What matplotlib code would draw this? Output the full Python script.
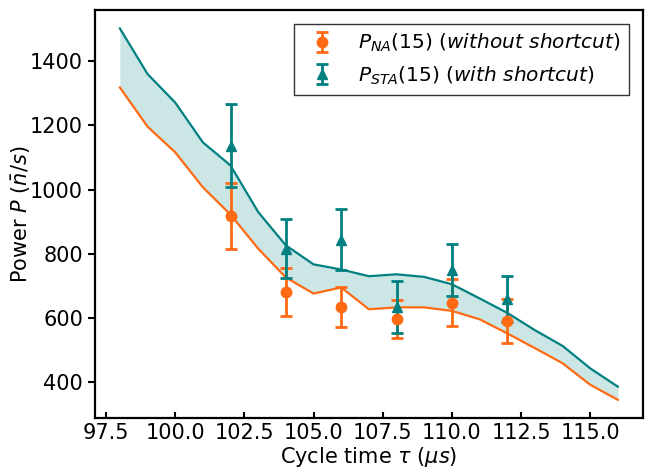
import numpy as np
import matplotlib
matplotlib.use("Agg")
import matplotlib.pyplot as plt

# Theory curves: cycle time (us) and power (n/s)
tau = [98, 99, 100, 101, 102, 103, 104, 105, 106, 107, 108, 109, 110, 111, 112, 113, 114, 115, 116]
p_sta_theory = [1502, 1360, 1271, 1147, 1075, 930, 826, 767, 751, 730, 736, 728, 705, 661, 616, 562, 513, 443, 386]
p_na_theory = [1318, 1196, 1116, 1007, 922, 816, 726, 676, 695, 627, 633, 633, 622, 596, 552, 506, 459, 392, 345]

# Measured points
tau_exp = [102, 104, 106, 108, 110, 112]
p_na_exp = [917, 681, 635, 597, 648, 590]
p_na_err = [102, 76, 62, 60, 72, 68]
p_sta_exp = [1137, 816, 844, 635, 749, 658]
p_sta_err = [129, 92, 94, 81, 80, 72]

orange = "#ff6a13"
teal = "#008080"

plt.rcParams["font.family"] = "DejaVu Sans"
plt.rcParams["font.size"] = 15

fig, ax = plt.subplots(figsize=(6.46, 4.68), dpi=100)
fig.subplots_adjust(left=0.147, right=0.995, top=0.979, bottom=0.106)

ax.fill_between(tau, p_na_theory, p_sta_theory, color=teal, alpha=0.2, linewidth=0)
ax.plot(tau, p_sta_theory, color=teal, lw=1.6)
ax.plot(tau, p_na_theory, color=orange, lw=1.6)

ax.errorbar(tau_exp, p_na_exp, yerr=p_na_err, fmt="o", color=orange, ms=7.5,
            elinewidth=2, capsize=4.5, capthick=2,
            label=r"$P_{NA}(15)$ ($\mathit{without\ shortcut}$)")
ax.errorbar(tau_exp, p_sta_exp, yerr=p_sta_err, fmt="^", color=teal, ms=7.5,
            elinewidth=2, capsize=4.5, capthick=2,
            label=r"$P_{STA}(15)$ ($\mathit{with\ shortcut}$)")

ax.set_xlabel(r"Cycle time $\tau$ ($\mu s$)", labelpad=1)
ax.set_ylabel(r"Power $P$ ($\bar{n}/s$)", labelpad=-2)
ax.set_yticks([400, 600, 800, 1000, 1200, 1400])

for s in ax.spines.values():
    s.set_linewidth(1.6)
ax.tick_params(axis="x", direction="in", length=4, width=1.5)
ax.tick_params(axis="y", direction="out", length=5, width=1.5)

leg = ax.legend(loc="upper right", fancybox=False, edgecolor="#333333",
                framealpha=1, fontsize=14.5, borderaxespad=0.7)
leg.get_frame().set_linewidth(1.0)

fig.savefig("out.png", dpi=100)
